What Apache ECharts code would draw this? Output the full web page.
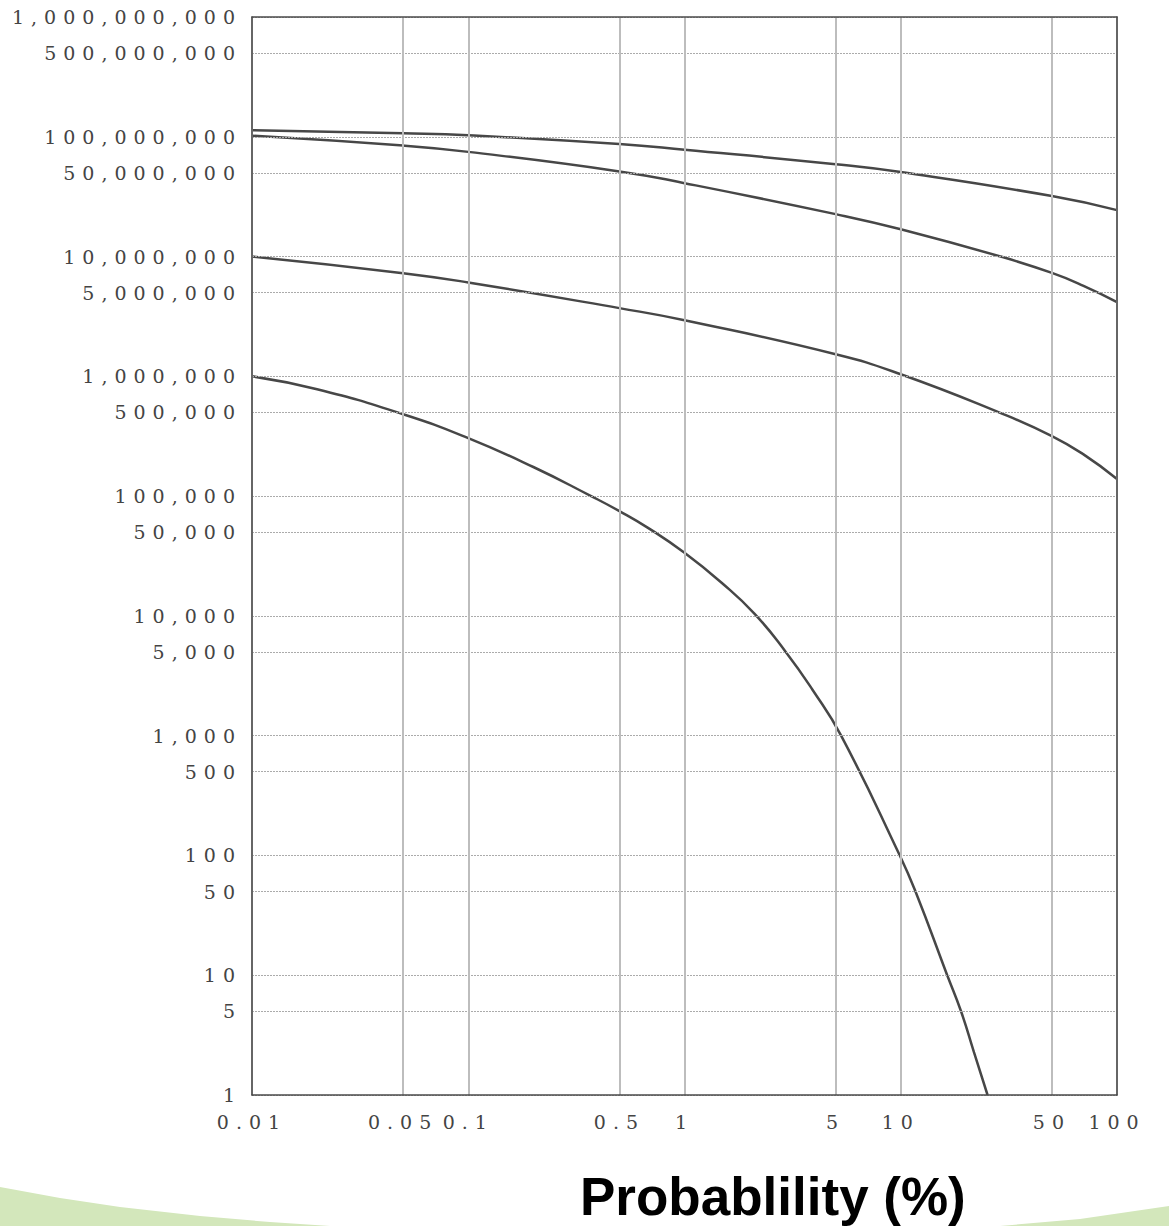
<!DOCTYPE html>
<html><head><meta charset="utf-8">
<script src="https://cdn.jsdelivr.net/npm/echarts@6/dist/echarts.min.js"></script>
<style>
html,body{margin:0;padding:0;background:#fff;}
#chart{width:1169px;height:1226px;}
#chart svg text[style*="Serif"]{letter-spacing:7px;}
</style></head><body><div id="chart"></div>
<script>
// ---- data ----
const xTicks = [0.01, 0.05, 0.1, 0.5, 1, 5, 10, 50, 100];
const xTickLabels = ['0.01', '0.05', '0.1', '0.5', '1', '5', '10', '50', '100'];
const yTicks = [1, 5, 10, 50, 100, 500, 1000, 5000, 1e4, 5e4, 1e5, 5e5, 1e6, 5e6, 1e7, 5e7, 1e8, 5e8, 1e9];
const yTickLabels = ['1', '5', '10', '50', '100', '500', '1,000', '5,000', '10,000', '50,000', '100,000', '500,000',
  '1,000,000', '5,000,000', '10,000,000', '50,000,000', '100,000,000', '500,000,000', '1,000,000,000'];
const xAxisTitle = 'Probablility (%)';

const curve1X = [0.01, 0.05, 0.1, 0.5, 1, 5, 10, 50, 100];
const curve1Y = [1.135e8, 1.07e8, 1.03e8, 8.7e7, 7.8e7, 5.9e7, 5.07e7, 3.2e7, 2.44e7];

const curve2X = [0.01, 0.05, 0.1, 0.5, 1, 5, 10, 29, 50, 70, 100];
const curve2Y = [1.02e8, 8.44e7, 7.48e7, 5.14e7, 4.1e7, 2.26e7, 1.69e7, 1.0e7, 7.3e6, 5.7e6, 4.17e6];

const curve3X = [0.01, 0.05, 0.1, 0.5, 1, 5, 10, 29, 50, 70, 100];
const curve3Y = [1.0e7, 7.27e6, 6.08e6, 3.71e6, 2.94e6, 1.53e6, 1.04e6, 4.93e5, 3.17e5, 2.23e5, 1.39e5];

const curve4X = [0.01, 0.02, 0.05, 0.1, 0.2, 0.37, 0.5, 0.675, 1, 1.48, 2.11, 2.94, 3.9, 5.3, 9.9, 11.7, 16.4, 19.0, 21.8, 25.2];
const curve4Y = [1.0e6, 7.8e5, 4.83e5, 3.05e5, 1.75e5, 1.0e5, 7.5e4, 5.46e4, 3.36e4, 1.9e4, 1.04e4, 5.0e3, 2.43e3, 1000, 100, 50, 10, 5, 2.28, 1];

// ---- chart ----
const zip = (xs, ys) => xs.map((x, i) => [x, ys[i]]);
const axisColor = '#4a4a4a';
const labelFont = { color: '#444', fontFamily: 'DejaVu Serif', fontSize: 19 };
const curveStyle = { color: '#474747', width: 2.5 };

function logAxis(pos, min, max) {
  return {
    type: 'log', logBase: 10, min: min, max: max, position: pos, z: 5,
    axisLine: { show: true, onZero: false, lineStyle: { color: axisColor, width: 1.5 } },
    axisTick: { show: false }, axisLabel: { show: false }, splitLine: { show: false }
  };
}

function curve(xs, ys) {
  return {
    type: 'line', data: zip(xs, ys), z: 3, showSymbol: false, smooth: 0.5,
    lineStyle: curveStyle, itemStyle: { color: curveStyle.color }, silent: true, animation: false
  };
}

const chart = echarts.init(document.getElementById('chart'), null, { renderer: 'svg' });
chart.setOption({
  animation: false,
  backgroundColor: '#fff',
  grid: { left: 252, right: 52, top: 17, bottom: 131, show: false },
  xAxis: [logAxis('bottom', 0.01, 100), logAxis('top', 0.01, 100)],
  yAxis: [logAxis('left', 1, 1e9), logAxis('right', 1, 1e9)],
  title: {
    text: xAxisTitle, left: 580, top: 1170, padding: 0,
    textStyle: { fontFamily: 'Liberation Sans', fontSize: 53, fontWeight: 'bold', color: '#000' }
  },
  graphic: [
    { type: 'polygon', z: -1, silent: true,
      shape: { points: [[0, 1187], [60, 1198], [120, 1207], [200, 1216], [270, 1222], [330, 1226], [0, 1226]] },
      style: { fill: '#d3e7bb' } },
    { type: 'polygon', z: -1, silent: true,
      shape: { points: [[1000, 1226], [1080, 1219], [1169, 1206], [1169, 1226]] },
      style: { fill: '#d3e7bb' } }
  ],
  series: [
    {
      type: 'line', data: [], z: 1, silent: true,
      markLine: {
        silent: true, animation: false, symbol: ['none', 'none'],
        emphasis: { disabled: true },
        lineStyle: { color: '#ababab', width: 1, type: [2, 1] },
        label: Object.assign({ show: true, position: 'start', formatter: '{b}', distance: 10 }, labelFont),
        data: yTicks.map((v, i) => ({ yAxis: v, name: yTickLabels[i] }))
      }
    },
    {
      type: 'line', data: [], z: 1, silent: true,
      markLine: {
        silent: true, animation: false, symbol: ['none', 'none'],
        emphasis: { disabled: true },
        lineStyle: { color: '#bdbdbd', width: 2, type: 'solid' },
        label: Object.assign({ show: true, position: 'start', formatter: '{b}', distance: 17 }, labelFont),
        data: xTicks.map((v, i) => ({ xAxis: v, name: xTickLabels[i] }))
      }
    },
    curve(curve1X, curve1Y),
    curve(curve2X, curve2Y),
    curve(curve3X, curve3Y),
    curve(curve4X, curve4Y)
  ]
});
</script></body></html>
